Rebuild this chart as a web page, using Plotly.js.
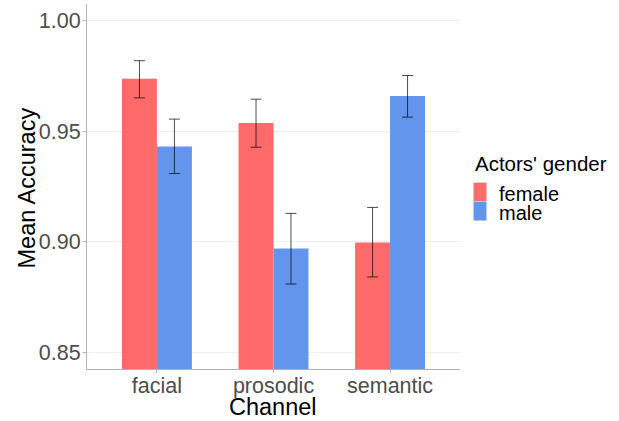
<!DOCTYPE html>
<html>
<head>
<meta charset="utf-8">
<script src="https://cdn.plot.ly/plotly-3.0.1.min.js"></script>
<style>html,body{margin:0;padding:0;background:#fff;}#chart{width:619px;height:421px;}</style>
</head>
<body>
<div id="chart"></div>
<script>
const channels = ["facial", "prosodic", "semantic"];
const genders = ["female", "male"];
const genderColors = ["#FF6A6A", "#6495ED"];
const femaleMean = [0.9737, 0.9537, 0.8998];
const femaleUpper = [0.9819, 0.9645, 0.9156];
const femaleLower = [0.9651, 0.9428, 0.8842];
const maleMean = [0.9431, 0.8970, 0.9659];
const maleUpper = [0.9555, 0.9129, 0.9752];
const maleLower = [0.9309, 0.8810, 0.9564];
const yTicks = [0.85, 0.90, 0.95, 1.00];

const W = 619, H = 421, ML = 87, MR = 159, MT = 4, MB = 52;
const PW = W - ML - MR, PH = H - MT - MB;
const px = x => (x - ML) / PW;
const py = y => (H - MB - y) / PH;

function errs(mean, up, lo) {
  return {
    type: "data", symmetric: false,
    array: mean.map((m, i) => up[i] - m),
    arrayminus: mean.map((m, i) => m - lo[i]),
    color: "rgba(0,0,0,0.7)", thickness: 1, width: 5.5
  };
}

const traces = [
  { type: "bar", name: genders[0], x: channels, y: femaleMean,
    marker: { color: genderColors[0], line: { width: 0 } },
    error_y: errs(femaleMean, femaleUpper, femaleLower) },
  { type: "bar", name: genders[1], x: channels, y: maleMean,
    marker: { color: genderColors[1], line: { width: 0 } },
    error_y: errs(maleMean, maleUpper, maleLower) }
];

const font = "Liberation Sans, Arial, sans-serif";
const annotations = [
  { text: "Channel", xref: "paper", yref: "paper", x: px(273), y: py(407),
    xanchor: "center", yanchor: "middle", showarrow: false,
    font: { family: font, size: 23.5, color: "#000" } },
  { text: "Mean Accuracy", xref: "paper", yref: "paper", x: px(26.5), y: py(188),
    xanchor: "center", yanchor: "middle", showarrow: false, textangle: -90,
    font: { family: font, size: 23.5, color: "#000" } },
  { text: "Actors' gender", xref: "paper", yref: "paper", x: px(473), y: py(163.7),
    xanchor: "left", yanchor: "middle", showarrow: false,
    font: { family: font, size: 20.5, color: "#000" } }
];
const shapes = [];
const swTop = [182.7, 201.5], swBot = [201, 220.5], txtY = [194, 213];
genders.forEach((g, i) => {
  shapes.push({ type: "rect", xref: "paper", yref: "paper",
    x0: px(473.5), x1: px(486.5), y0: py(swBot[i]), y1: py(swTop[i]),
    fillcolor: genderColors[i], line: { width: 0 } });
  annotations.push({ text: g, xref: "paper", yref: "paper", x: px(497), y: py(txtY[i]),
    xanchor: "left", yanchor: "middle", showarrow: false,
    font: { family: font, size: 20, color: "#000" } });
});

const layout = {
  width: W, height: H,
  margin: { l: ML, r: MR, t: MT, b: MB },
  paper_bgcolor: "#fff", plot_bgcolor: "#fff",
  font: { family: font, color: "#4d4d4d" },
  barmode: "group", bargap: 0.4, bargroupgap: 0,
  showlegend: false,
  xaxis: {
    type: "category", range: [-0.6, 2.6],
    showline: true, linecolor: "#b3b3b3", linewidth: 1,
    showgrid: false, zeroline: false,
    ticks: "outside", ticklen: 3, tickcolor: "#b3b3b3",
    ticklabelstandoff: -6,
    tickfont: { size: 21.5, color: "#4d4d4d" }
  },
  yaxis: {
    range: [0.8426, 1.0075], tickvals: yTicks, tickformat: ".2f",
    showline: true, linecolor: "#b3b3b3", linewidth: 1,
    showgrid: true, gridcolor: "#efefef", gridwidth: 1, zeroline: false,
    ticks: "outside", ticklen: 3, tickcolor: "#b3b3b3",
    ticklabelstandoff: -2,
    tickfont: { size: 21.5, color: "#4d4d4d" }
  },
  annotations: annotations,
  shapes: shapes
};

Plotly.newPlot("chart", traces, layout, { displayModeBar: false, staticPlot: true });
</script>
</body>
</html>
